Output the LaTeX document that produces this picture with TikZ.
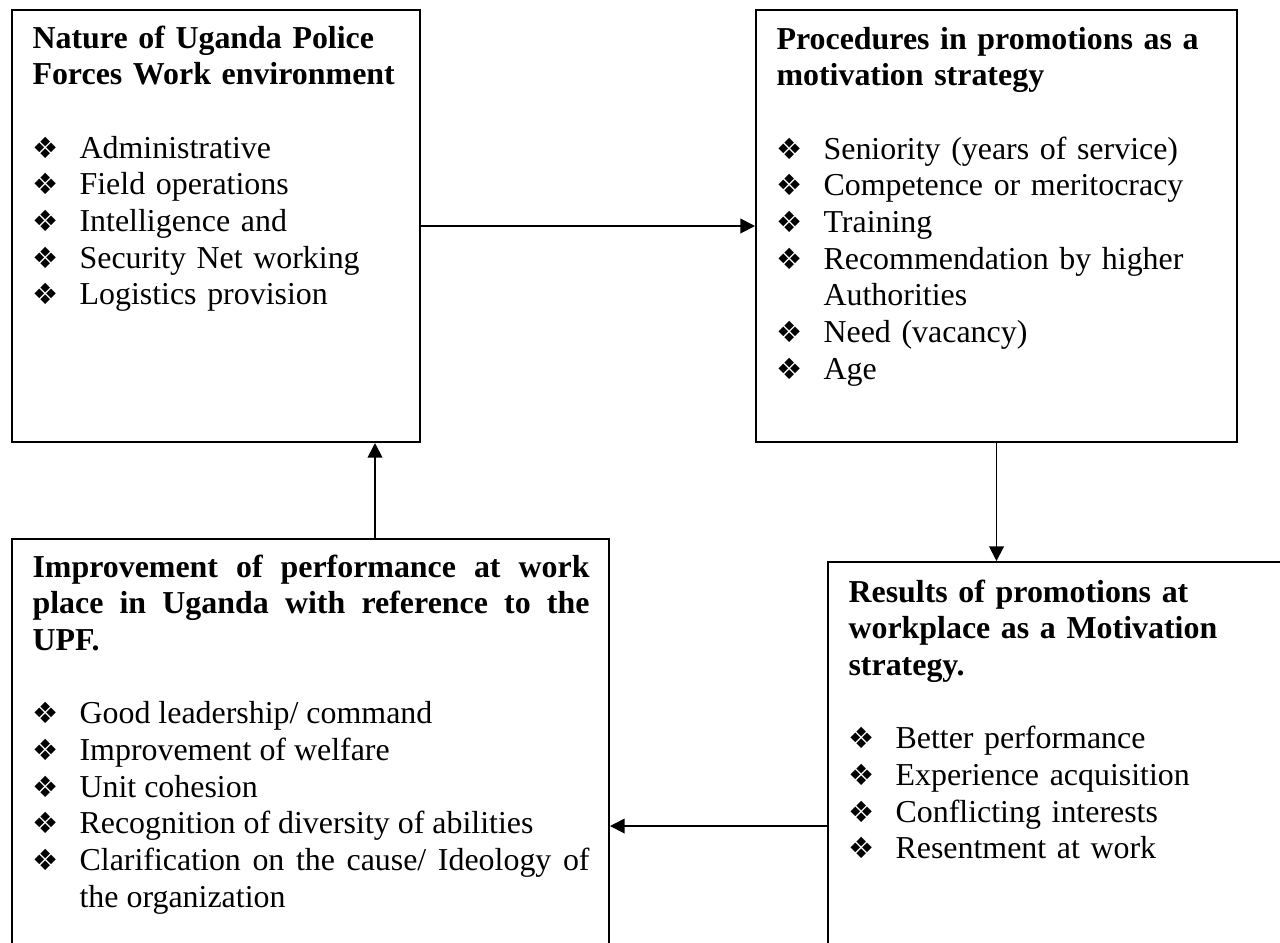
\documentclass[tikz,border=0pt]{standalone}
\usepackage{fontspec}
\setmainfont{Liberation Serif}
\newfontfamily\bulletfont{DejaVu Sans}
\usetikzlibrary{arrows.meta,calc,positioning}

\newcommand{\bul}{{\bulletfont\fontsize{11pt}{12pt}\selectfont ❖}}
\newcommand{\entry}[1]{\leftskip=17.7pt\noindent\hspace*{-17.7pt}\makebox[17.7pt][l]{\bul}#1\par}
\def\px{0.376pt}

\tikzset{
	box/.style={draw, line width=0.75pt, inner sep=0pt, anchor=north west},
	txt/.style={inner sep=0pt, anchor=base west, font=\fontsize{12pt}{13.8pt}\selectfont},
	flow/.style={-{Triangle[length=5.5pt,width=5.5pt]}, line width=0.7pt}
}

\begin{document}
\begin{tikzpicture}[x=0.376pt, y=-0.376pt]
	\useasboundingbox (0,0) rectangle (1280,942);
	\clip (0,0) rectangle (1280,942);

	\node[box, minimum width={408*\px}, minimum height={432*\px}] (nature) at (11,9) {};
	\node[box, minimum width={481*\px}, minimum height={432*\px}] (proc) at (755,9) {};
	\node[box, minimum width={597*\px}, minimum height={470*\px}] (impr) at (11,538) {};
	\node[box, minimum width={480*\px}, minimum height={528*\px}] (res) at (827,561) {};

	\node[txt, text width={368*\px}] (nature-txt) at ($(nature.north west)+(21,39)$) {
		{\bfseries Nature of Uganda Police\newline Forces Work environment}\par\vspace{13.8pt}
		\entry{Administrative}
		\entry{Field operations}
		\entry{Intelligence and}
		\entry{Security Net working}
		\entry{Logistics provision}};

	\node[txt, text width={440*\px}] (proc-txt) at ($(proc.north west)+(21,40)$) {
		{\bfseries Procedures in promotions as a\newline motivation strategy}\par\vspace{13.8pt}
		\entry{Seniority (years of service)}
		\entry{Competence or meritocracy}
		\entry{Training}
		\entry{Recommendation by higher\newline Authorities}
		\entry{Need (vacancy)}
		\entry{Age}};

	\node[txt, align=justify, text width={557*\px}] (impr-txt) at ($(impr.north west)+(21,39)$) {
		{\bfseries Improvement of performance at work\linebreak place in Uganda with reference to the\linebreak UPF.}\par\vspace{13.8pt}
		\entry{Good leadership/ command}
		\entry{Improvement of welfare}
		\entry{Unit cohesion}
		\entry{Recognition of diversity of abilities}
		\entry{Clarification on the cause/ Ideology of\linebreak the organization}};

	\node[txt, text width={420*\px}] (res-txt) at ($(res.north west)+(21,41)$) {
		{\bfseries Results of promotions at\newline workplace as a Motivation\newline strategy.}\par\vspace{13.8pt}
		\entry{Better performance}
		\entry{Experience acquisition}
		\entry{Conflicting interests}
		\entry{Resentment at work}};

	\draw[flow] (nature.east) -- (nature.east -| proc.west);
	\draw[flow] (proc.south) -- (proc.south |- res.north);
	\draw[flow] (res.west) -- (res.west -| impr.east);
	\draw[flow] (impr.north -| 375,0) -- (nature.south -| 375,0);
\end{tikzpicture}
\end{document}
